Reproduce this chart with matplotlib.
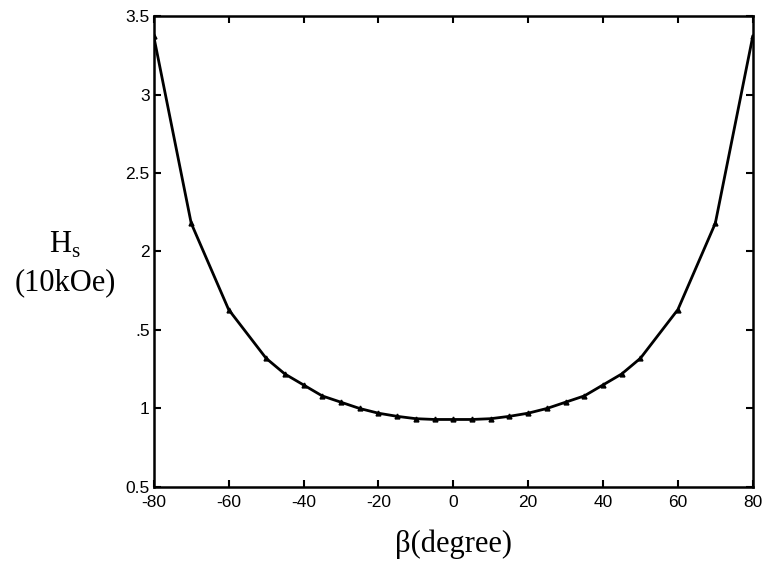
import matplotlib
matplotlib.use("Agg")
import matplotlib.pyplot as plt

plt.rcParams['font.family'] = 'Liberation Sans'
plt.rcParams['mathtext.fontset'] = 'custom'
plt.rcParams['mathtext.rm'] = 'Liberation Serif'

# angle beta (degree) and saturation field Hs (10 kOe)
beta = [-80, -70, -60, -50, -45, -40, -35, -30, -25, -20, -15, -10, -5,
        0, 5, 10, 15, 20, 25, 30, 35, 40, 45, 50, 60, 70, 80]
hs = [3.37, 2.18, 1.63, 1.32, 1.22, 1.15, 1.08, 1.04, 1.00, 0.97, 0.95, 0.935, 0.93,
      0.93, 0.93, 0.935, 0.95, 0.97, 1.00, 1.04, 1.08, 1.15, 1.22, 1.32, 1.63, 2.18, 3.37]

xticks = [-80, -60, -40, -20, 0, 20, 40, 60, 80]
yticks = [0.5, 1, 1.5, 2, 2.5, 3, 3.5]
ytick_labels = ['0.5', '1', '.5', '2', '2.5', '3', '3.5']

fig = plt.figure(figsize=(7.65, 5.62), dpi=100)
ax = fig.add_axes([0.201, 0.1335, 0.783, 0.838])

ax.plot(beta, hs, color='black', lw=2, marker='^', ms=3.5, mfc='black', mec='black')

ax.set_xlim(-80, 80)
ax.set_ylim(0.5, 3.5)
ax.set_xticks(xticks)
ax.set_xticklabels([str(t) for t in xticks])
ax.set_yticks(yticks)
ax.set_yticklabels(ytick_labels)
ax.tick_params(direction='in', length=5, width=1.5, labelsize=12.5,
               top=True, right=True)
ax.tick_params(axis='x', pad=6)
ax.tick_params(axis='y', pad=3)
for s in ax.spines.values():
    s.set_linewidth(1.8)

ax.set_xlabel('β(degree)', fontsize=22, family='Liberation Serif', labelpad=14)
fig.text(0.085, 0.565, r'H$_\mathrm{s}$', fontsize=22, family='Liberation Serif',
         ha='center', va='center')
fig.text(0.085, 0.497, '(10kOe)', fontsize=22, family='Liberation Serif',
         ha='center', va='center')

fig.savefig('out.png', dpi=100)
